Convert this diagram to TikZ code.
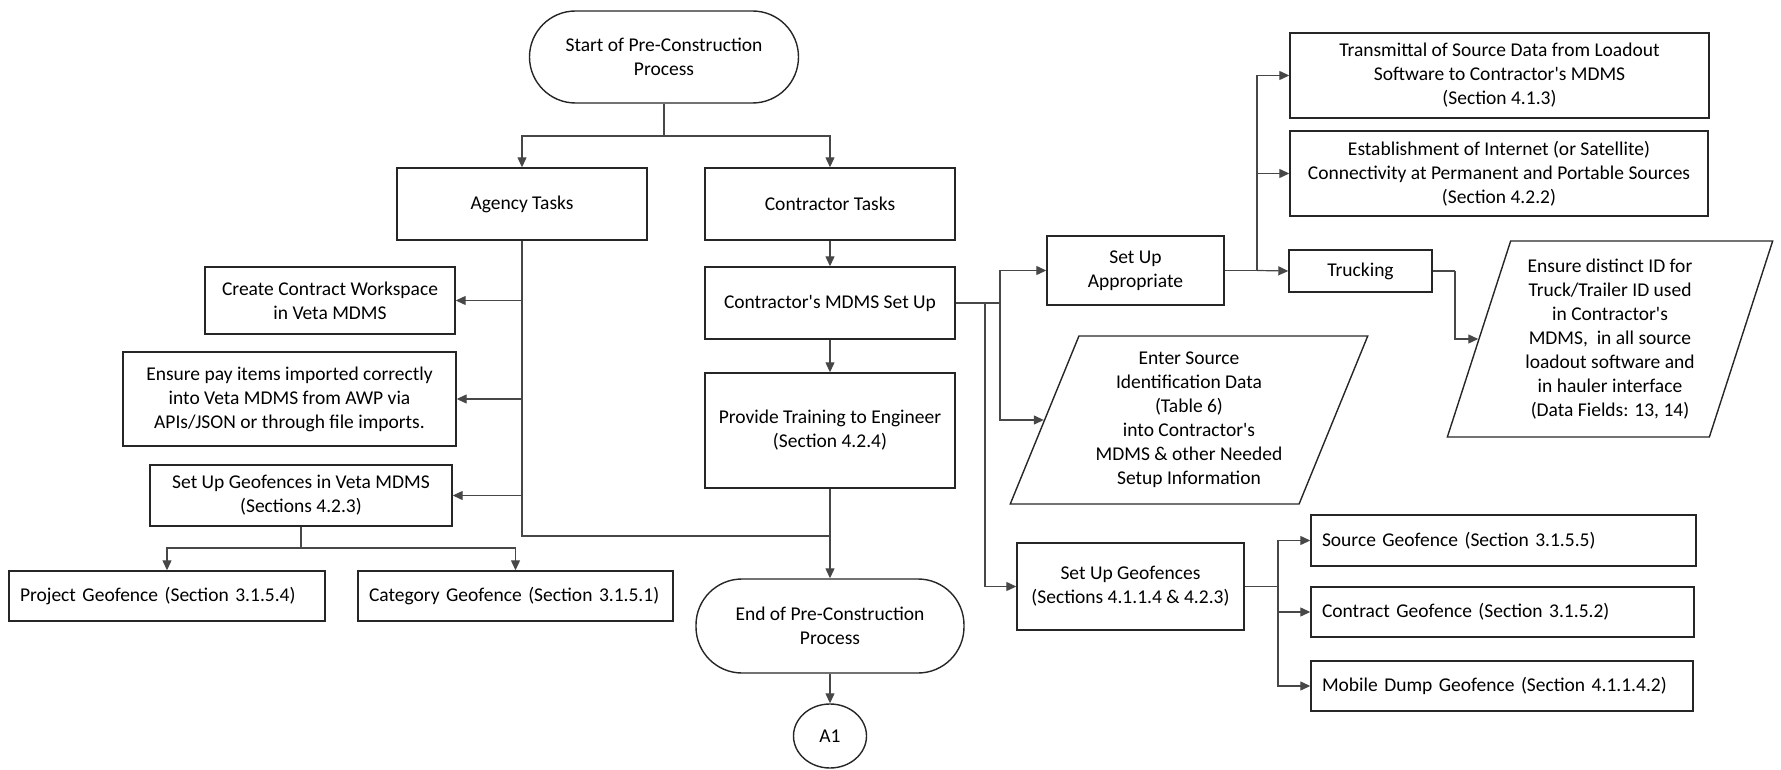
\documentclass[tikz,border=0pt]{standalone}
\usepackage{fontspec}
\setmainfont{Carlito}
\usetikzlibrary{arrows.meta,shapes.geometric}
\newcommand{\ap}{\textquotesingle}
\begin{document}
\begin{tikzpicture}[x=1pt,y=-1pt,
  txt/.style={font=\fontsize{19.5}{24}\selectfont},
  box/.style={txt, draw=black!85, line width=1.4pt, rectangle, inner sep=0pt, align=center},
  term/.style={box, rounded corners=46pt},
  leftbox/.style={txt, draw=black!85, line width=1.4pt, rectangle, inner ysep=0pt, inner xsep=11pt, align=left},
  para/.style={txt, draw=black!85, line width=1.4pt, trapezium, trapezium stretches=true, inner sep=0pt, align=center},
  conn/.style={draw=black!72, line width=1.2pt},
  arr/.style={conn, -{Triangle[length=10pt,width=9pt]}}]
\useasboundingbox (0,0) rectangle (1781,770);

% --- main column ---
\node[term, minimum width=269pt, minimum height=92pt] (start) at (664,57) {Start of Pre-Construction\\Process};
\node[box, minimum width=250pt, minimum height=72pt] (agency) at (522,204) {Agency Tasks};
\node[box, minimum width=250pt, minimum height=72pt] (contractor) at (830,204) {Contractor Tasks};
\node[box, minimum width=250pt, minimum height=72pt] (mdms) at (830,303) {Contractor\ap s MDMS Set Up};
\node[box, minimum width=250pt, minimum height=115pt] (training) at (830,430.5) {Provide Training to Engineer\\(Section 4.2.4)};
\node[term, minimum width=268pt, minimum height=94pt] (finish) at (830,626) {End of Pre-Construction\\Process};
\node[txt, draw=black!85, line width=1.4pt, ellipse, inner sep=0pt, minimum width=73pt, minimum height=64pt] (aone) at (830,736) {A1};

% --- agency tasks ---
\node[box, minimum width=250pt, minimum height=67pt] (create) at (330,300.5) {Create Contract Workspace\\in Veta MDMS};
\node[box, minimum width=333pt, minimum height=94pt] (payitems) at (289.5,399) {Ensure pay items imported correctly\\into Veta MDMS from AWP via\\APIs/JSON or through file imports.};
\node[box, minimum width=302pt, minimum height=61pt] (vetageo) at (301,495.5) {Set Up Geofences in Veta MDMS\\(Sections 4.2.3)};
\node[leftbox, text width=294pt, minimum height=50pt] (projgeo) at (167,596) {Project Geofence (Section 3.1.5.4)};
\node[leftbox, text width=293pt, minimum height=50pt] (catgeo) at (515.5,596) {Category Geofence (Section 3.1.5.1)};

% --- contractor set up ---
\node[box, minimum width=177pt, minimum height=69pt] (appropriate) at (1135.5,270.5) {Set Up\\Appropriate};
\node[box, minimum width=419pt, minimum height=85pt] (transmittal) at (1499.5,75.5) {Transmittal of Source Data from Loadout\\Software to Contractor\ap s MDMS\\(Section 4.1.3)};
\node[box, minimum width=418pt, minimum height=85pt] (establish) at (1499,173.5) {Establishment of Internet (or Satellite)\\Connectivity at Permanent and Portable Sources\\(Section 4.2.2)};
\node[box, minimum width=143pt, minimum height=42pt] (trucking) at (1360.5,271) {Trucking};
\node[para, trapezium left angle=71.4, trapezium right angle=108.6, minimum width=326pt, minimum height=196pt] (distinct) at (1610,339) {Ensure distinct ID for\\Truck/Trailer ID used\\in Contractor\ap s\\MDMS,\ \ in all source\\loadout software and\\in hauler interface\\(Data Fields: 13, 14)};
\node[para, trapezium left angle=66.8, trapezium right angle=113.2, minimum width=358pt, minimum height=168pt] (enter) at (1189,420) {Enter Source\\Identification Data\\(Table 6)\\into Contractor\ap s\\MDMS \& other Needed\\Setup Information};
\node[box, minimum width=227pt, minimum height=87pt] (setgeo) at (1130.5,586.5) {Set Up Geofences\\(Sections 4.1.1.4 \& 4.2.3)};
\node[leftbox, text width=363pt, minimum height=51pt] (srcgeo) at (1503.5,540.5) {Source Geofence (Section 3.1.5.5)};
\node[leftbox, text width=361pt, minimum height=50pt] (contrgeo) at (1502.5,612) {Contract Geofence (Section 3.1.5.2)};
\node[leftbox, text width=360pt, minimum height=50pt] (dumpgeo) at (1502,686) {Mobile Dump Geofence (Section 4.1.1.4.2)};

% --- junction points ---
\coordinate (split) at (664,136);
\coordinate (agjoin) at (830,536);
\coordinate (geosplit) at (301,548);
\coordinate (mhub) at (1000,303);
\coordinate (mhubb) at (985,303);
\coordinate (ahub) at (1257,270.5);
\coordinate (thub) at (1455,271);
\coordinate (ghub) at (1278,586.5);

% --- connectors: main column ---
\draw[conn] (start.south) -- (split);
\draw[arr] (split) -| (agency.north);
\draw[arr] (split) -| (contractor.north);
\draw[arr] (contractor.south) -- (mdms.north);
\draw[arr] (mdms.south) -- (training.north);
\draw[arr] (training.south) -- (finish.north);
\draw[arr] (finish.south) -- (aone.north);

% --- connectors: agency ---
\draw[conn] (agency.south) |- (agjoin);
\draw[arr] (agency.south |- create.east) -- (create.east);
\draw[arr] (agency.south |- payitems.east) -- (payitems.east);
\draw[arr] (agency.south |- vetageo.east) -- (vetageo.east);
\draw[conn] (vetageo.south) -- (geosplit);
\draw[arr] (geosplit) -| (projgeo.north);
\draw[arr] (geosplit) -| (catgeo.north);

% --- connectors: contractor set up ---
\draw[conn] (mdms.east) -- (mhub);
\draw[arr] (mhub) |- (appropriate.west);
\draw[arr] (mhub) |- (enter.left side);
\draw[arr] (mhubb) |- (setgeo.west);
\draw[conn] (appropriate.east) -- (ahub);
\draw[arr] (ahub) |- (transmittal.west);
\draw[arr] (ahub) |- (establish.west);
\draw[arr] (ahub) -- (trucking.west);
\draw[conn] (trucking.east) -- (thub);
\draw[arr] (thub) |- (distinct.left side);
\draw[conn] (setgeo.east) -- (ghub);
\draw[arr] (ghub) |- (srcgeo.west);
\draw[arr] (ghub) |- (contrgeo.west);
\draw[arr] (ghub) |- (dumpgeo.west);
\end{tikzpicture}
\end{document}
